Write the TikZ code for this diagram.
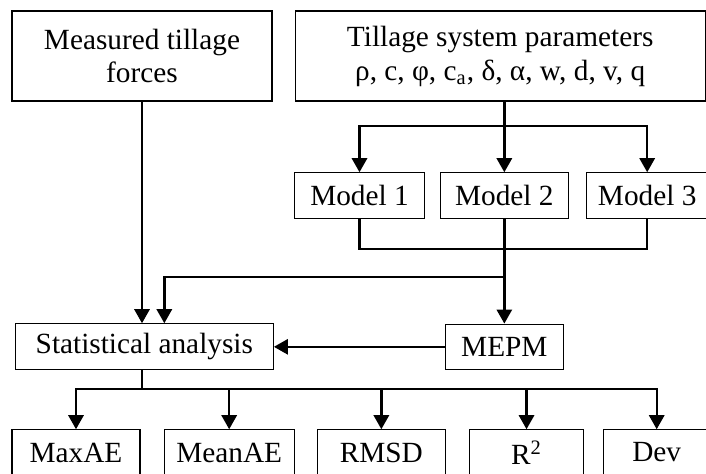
\documentclass[tikz,border=0pt]{standalone}
\usepackage{fontspec}
\setmainfont{Liberation Serif}
\usetikzlibrary{arrows.meta,positioning}

\begin{document}
\begin{tikzpicture}[x=0.015cm, y=-0.015cm, font=\fontsize{12.5}{14.5}\selectfont,
	box/.style={draw, line width=0.5pt, align=center, inner sep=0pt, minimum height=0.68cm},
	post/.style={-{Triangle[length=6pt,width=6.5pt]}, line width=1pt},
	wire/.style={line width=1pt}]

	\useasboundingbox (0,0) rectangle (706,474);

	\node [box] (MTF) at (142,56) [minimum width=3.9cm, minimum height=1.35cm]
		{Measured tillage\\forces};
	\node [box] (TSP) [right=0.33cm of MTF, minimum width=6.15cm, minimum height=1.35cm]
		{Tillage system parameters\\ρ, c, φ, c\textsubscript{a}, δ, α, w, d, v, q};

	\node [box] (M1) at (359.5,195.5) [minimum width=1.94cm] {Model 1};
	\node [box] (M2) [right=0.225cm of M1, minimum width=1.92cm] {Model 2};
	\node [box] (M3) [right=0.255cm of M2, minimum width=1.82cm] {Model 3};

	\node [box] (MEPM) [below of=M2, node distance=2.27cm, minimum width=1.77cm] {MEPM};
	\node [box] (SA) [left of=MEPM, node distance=5.4cm, minimum width=3.87cm, minimum height=0.69cm]
		{Statistical analysis};

	\node [box] (MAXAE) at (76,452.5) [minimum width=1.92cm] {MaxAE};
	\node [box] (MEANAE) [right=0.345cm of MAXAE, minimum width=1.95cm] {MeanAE};
	\node [box] (RMSD) [right=0.33cm of MEANAE, minimum width=1.92cm] {RMSD};
	\node [box] (RSQ) [right=0.345cm of RMSD, minimum width=1.71cm] {R\textsuperscript{2}};
	\node [box] (DEV) [right=0.285cm of RSQ, minimum width=1.59cm] {Dev};

	\coordinate (TS) at (M2 |- 0,126);
	\coordinate (MJ) at (M2 |- 0,249);
	\coordinate (MF) at (M2 |- 0,277);
	\coordinate (SB) at (MTF.south |- 0,389);

	\draw[post] (MTF.south) -- (MTF.south |- SA.north);

	\draw[wire] (TSP.south -| M2) -- (TS);
	\draw[post] (TS) -| (M1);
	\draw[post] (TS) -- (M2);
	\draw[post] (TS) -| (M3);

	\draw[wire] (M1) |- (MJ) -| (M3);
	\draw[wire] (M2) -- (MJ) -- (MF);
	\draw[post] (MF) -- (MEPM);
	\draw[post] (MF) -| ([xshift=0.3cm]SA.north);
	\draw[post] (MEPM) -- (SA);

	\draw[wire] (SA.south -| SB) -- (SB);
	\foreach \o in {MAXAE,MEANAE,RMSD,RSQ,DEV}
		\draw[post] (SB) -| (\o);

\end{tikzpicture}
\end{document}
